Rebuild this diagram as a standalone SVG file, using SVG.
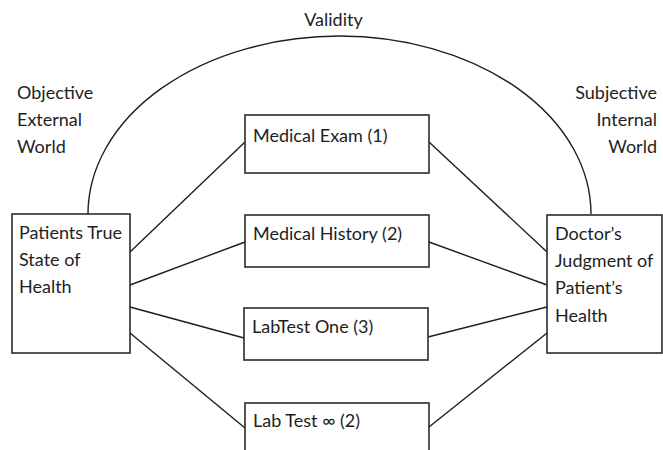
<svg xmlns="http://www.w3.org/2000/svg" width="663" height="450" viewBox="0 0 663 450">
<style>
  .box { fill: #ffffff; stroke: #2b2b2b; stroke-width: 1.6; }
  .edge { fill: none; stroke: #1e1e1e; stroke-width: 1.4; }
  .t { font-family: Lato, "Open Sans", sans-serif; font-size: 18px; fill: #1e1e1e; }
  .mid { text-anchor: middle; }
  .end { text-anchor: end; }
</style>
<rect width="663" height="450" fill="#ffffff"/>
<g id="connectors">
  <path id="validity-arc" class="edge" d="M 88 214 A 251.5 178 0 0 1 591 214"/>
  <line class="edge" x1="130" y1="252" x2="245" y2="142"/>
  <line class="edge" x1="130" y1="285" x2="245" y2="242"/>
  <line class="edge" x1="130" y1="307" x2="244" y2="338"/>
  <line class="edge" x1="130" y1="333" x2="245" y2="428"/>
  <line class="edge" x1="429" y1="142" x2="547" y2="252"/>
  <line class="edge" x1="429" y1="242" x2="547" y2="285"/>
  <line class="edge" x1="428" y1="337" x2="547" y2="307"/>
  <line class="edge" x1="429" y1="427" x2="547" y2="333"/>
</g>
<g id="labels">
  <text class="t mid" x="333.5" y="26">Validity</text>
  <text class="t" x="17" y="99">Objective</text>
  <text class="t" x="17" y="126">External</text>
  <text class="t" x="17" y="153">World</text>
  <text class="t end" x="657" y="99">Subjective</text>
  <text class="t end" x="657" y="126">Internal</text>
  <text class="t end" x="657" y="153">World</text>
</g>
<g id="patient-state">
  <rect class="box" x="12" y="214" width="118" height="139"/>
  <text class="t" x="19" y="239">Patients True</text>
  <text class="t" x="19" y="266">State of</text>
  <text class="t" x="19" y="293">Health</text>
</g>
<g id="doctor-judgment">
  <rect class="box" x="547" y="215" width="115" height="138"/>
  <text class="t" x="555" y="240">Doctor’s</text>
  <text class="t" x="555" y="267">Judgment of</text>
  <text class="t" x="555" y="294">Patient’s</text>
  <text class="t" x="555" y="321.5">Health</text>
</g>
<g id="medical-exam">
  <rect class="box" x="245" y="115" width="184" height="58"/>
  <text class="t" x="253" y="141.5">Medical Exam (1)</text>
</g>
<g id="medical-history">
  <rect class="box" x="245" y="215" width="184" height="52"/>
  <text class="t" x="253" y="240">Medical History (2)</text>
</g>
<g id="lab-test-one">
  <rect class="box" x="244" y="308" width="184" height="52"/>
  <text class="t" x="252" y="333">LabTest One (3)</text>
</g>
<g id="lab-test-inf">
  <rect class="box" x="245" y="403" width="184" height="60"/>
  <text class="t" x="253" y="427">Lab Test ∞ (2)</text>
</g>
</svg>
